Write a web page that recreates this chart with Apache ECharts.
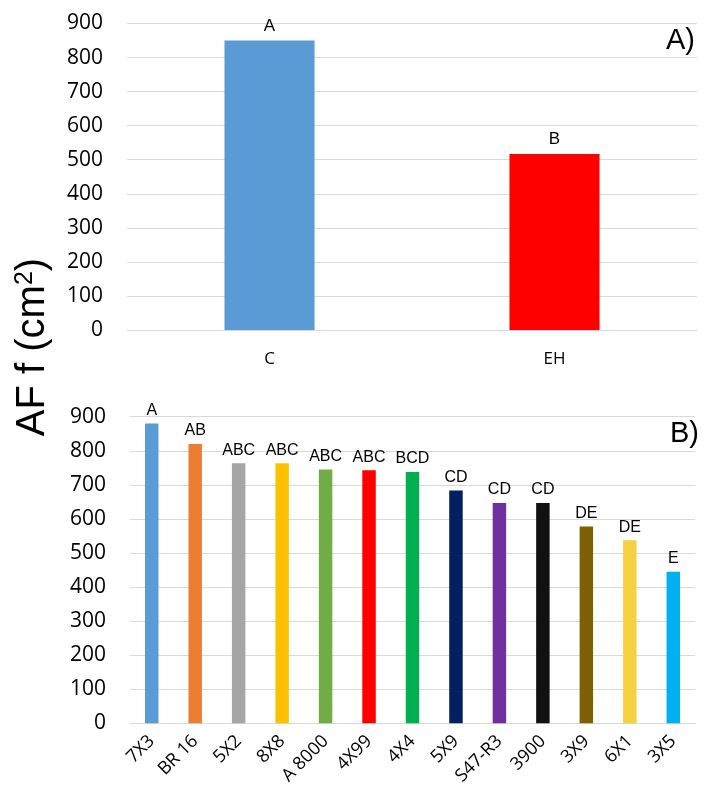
<!DOCTYPE html>
<html>
<head>
<meta charset="utf-8">
<script src="https://cdn.jsdelivr.net/npm/echarts@6/dist/echarts.min.js"></script>
<style>html,body{margin:0;padding:0;background:#fff}#c{width:703px;height:792px}</style>
</head>
<body>
<div id="c"></div>
<script>
const topCategories = ['C', 'EH'];
const topValues = [850, 517];
const topLetters = ['A', 'B'];
const topColors = ['#5B9BD5', '#FF0000'];

const botCategories = ['7X3', 'BR 16', '5X2', '8X8', 'A 8000', '4X99', '4X4', '5X9', 'S47-R3', '3900', '3X9', '6X1', '3X5'];
const botValues = [880, 820, 763, 763, 745, 743, 738, 683, 647, 647, 578, 537, 445];
const botLetters = ['A', 'AB', 'ABC', 'ABC', 'ABC', 'ABC', 'BCD', 'CD', 'CD', 'CD', 'DE', 'DE', 'E'];
const botColors = ['#5B9BD5', '#ED7D31', '#A5A5A5', '#FFC000', '#70AD47', '#FF0000', '#00B050', '#002060', '#7030A0', '#111111', '#7F6000', '#F5D142', '#00B0F0'];

const yTicks = { min: 0, max: 900, interval: 100 };
const tickFont = 'Open Sans';
const labelFont = 'Arial, Liberation Sans';

const chart = echarts.init(document.getElementById('c'), null, { renderer: 'canvas' });

function yAxisCfg(gi) {
  return {
    type: 'value', gridIndex: gi, min: yTicks.min, max: yTicks.max, interval: yTicks.interval,
    axisLine: { show: false }, axisTick: { show: false },
    axisLabel: { fontFamily: tickFont, fontSize: 21, color: '#000', margin: 24 },
    splitLine: { lineStyle: { color: '#d9d9d9', width: 1 } }
  };
}

chart.setOption({
  animation: false,
  backgroundColor: '#fff',
  grid: [
    { left: 127, right: 6, top: 23.5, height: 306.5 },
    { left: 130, right: 8, top: 416.7, height: 306.6 }
  ],
  xAxis: [
    {
      type: 'category', gridIndex: 0, data: topCategories,
      axisLine: { lineStyle: { color: '#d9d9d9' } }, axisTick: { show: false },
      axisLabel: { fontFamily: tickFont, fontSize: 17, color: '#000', margin: 21 }
    },
    {
      type: 'category', gridIndex: 1, data: botCategories,
      axisLine: { lineStyle: { color: '#d9d9d9' } }, axisTick: { show: false },
      axisLabel: { fontFamily: tickFont, fontSize: 18, color: '#000', margin: 15, rotate: 45, interval: 0 }
    }
  ],
  yAxis: [yAxisCfg(0), yAxisCfg(1)],
  series: [
    {
      type: 'bar', xAxisIndex: 0, yAxisIndex: 0, barWidth: '31.6%',
      data: topValues.map((v, i) => ({ value: v, itemStyle: { color: topColors[i] } })),
      label: {
        show: true, position: 'top', distance: 6, fontFamily: labelFont, fontSize: 17, color: '#000',
        formatter: p => topLetters[p.dataIndex]
      }
    },
    {
      type: 'bar', xAxisIndex: 1, yAxisIndex: 1, barWidth: '31%',
      data: botValues.map((v, i) => ({ value: v, itemStyle: { color: botColors[i] } })),
      label: {
        show: true, position: 'top', distance: 5, fontFamily: labelFont, fontSize: 16, color: '#000',
        formatter: p => botLetters[p.dataIndex]
      }
    }
  ],
  graphic: [
    {
      type: 'text', left: 666, top: 26,
      style: { text: 'A)', fontFamily: labelFont, fontSize: 29, fill: '#000' }
    },
    {
      type: 'text', left: 670, top: 419,
      style: { text: 'B)', fontFamily: labelFont, fontSize: 29, fill: '#000' }
    },
    {
      type: 'text', x: 33, y: 347, rotation: Math.PI / 2,
      style: {
        text: '{a|AF f (cm}{s|2}{a|)}',
        align: 'center', verticalAlign: 'middle',
        rich: {
          a: { fontFamily: labelFont, fontSize: 40, fill: '#000', color: '#000' },
          s: { fontFamily: labelFont, fontSize: 25, color: '#000', fill: '#000', verticalAlign: 'top', padding: [0, 0, 15, 0] }
        }
      }
    }
  ]
});
</script>
</body>
</html>
